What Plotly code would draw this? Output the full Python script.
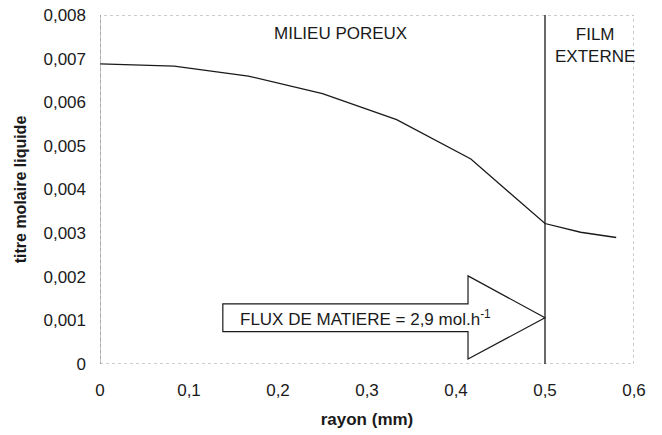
import plotly.graph_objects as go

rayon = [0, 0.0833, 0.1667, 0.25, 0.3333, 0.4167, 0.5, 0.54, 0.58]
titre = [0.00688, 0.00683, 0.0066, 0.0062, 0.0056, 0.0047, 0.00322, 0.00302, 0.0029]

x_tickvals = [0, 0.1, 0.2, 0.3, 0.4, 0.5, 0.6]
x_ticktext = ["0", "0,1", "0,2", "0,3", "0,4", "0,5", "0,6"]
y_tickvals = [0, 0.001, 0.002, 0.003, 0.004, 0.005, 0.006, 0.007, 0.008]
y_ticktext = ["0", "0,001", "0,002", "0,003", "0,004", "0,005", "0,006", "0,007", "0,008"]

boundary = 0.5
arrow_body = dict(x0=0.138, x1=0.4135, y0=0.00074, y1=0.00138)
arrow_head = dict(x=0.4135, top=0.00202, bottom=0.000115, tip=0.5)

FONT = "Liberation Sans, Arial, sans-serif"
INK = "#1a1a1a"

fig = go.Figure()
fig.add_trace(go.Scatter(x=rayon, y=titre, mode="lines",
                         line=dict(color=INK, width=1.3), showlegend=False, hoverinfo="skip"))

ab, ah = arrow_body, arrow_head
ymid = (ab["y0"] + ab["y1"]) / 2
path = (f"M {ab['x0']},{ab['y0']} L {ab['x1']},{ab['y0']} L {ah['x']},{ah['bottom']} "
        f"L {ah['tip']},{ymid} L {ah['x']},{ah['top']} L {ab['x1']},{ab['y1']} L {ab['x0']},{ab['y1']} Z")

shapes = [
    dict(type="rect", xref="x", yref="y", x0=0, x1=0.6, y0=0, y1=0.008,
         line=dict(color="#9a9a9a", width=1, dash="dot"), layer="below"),
    dict(type="line", xref="x", yref="y", x0=0, x1=0, y0=0, y1=0.008,
         line=dict(color="#8a8a8a", width=1)),
    dict(type="path", path=path, xref="x", yref="y", fillcolor="white",
         line=dict(color=INK, width=1.2)),
    dict(type="line", xref="x", yref="y", x0=boundary, x1=boundary, y0=0, y1=0.008,
         line=dict(color=INK, width=1.3)),
]

annotations = [
    dict(x=0.27, y=0.00757, xref="x", yref="y", text="MILIEU POREUX", showarrow=False,
         font=dict(family=FONT, size=17, color=INK)),
    dict(x=0.556, y=0.00729, xref="x", yref="y", text="FILM<br>EXTERNE", showarrow=False,
         yanchor="middle", font=dict(family=FONT, size=17, color=INK)),
    dict(x=0.155, y=ymid, xref="x", yref="y", xanchor="left",
         text="FLUX DE MATIERE = 2,9 mol.h<sup>-1</sup>", showarrow=False,
         font=dict(family=FONT, size=17, color=INK)),
]

fig.update_layout(
    width=662, height=435,
    margin=dict(l=100, r=28, t=15, b=71, autoexpand=False),
    paper_bgcolor="white", plot_bgcolor="white",
    shapes=shapes, annotations=annotations,
    font=dict(family=FONT, size=17, color=INK),
    xaxis=dict(range=[0, 0.6], tickvals=x_tickvals, ticktext=x_ticktext,
               showgrid=False, zeroline=False, showline=False, ticks="",
               automargin=False, ticklabelstandoff=14,
               title=dict(text="<b>rayon (mm)</b>", font=dict(size=17), standoff=14)),
    yaxis=dict(range=[0, 0.008], tickvals=y_tickvals, ticktext=y_ticktext,
               showgrid=False, zeroline=False, showline=False, ticks="",
               automargin=False, ticklabelstandoff=13,
               title=dict(text="<b>titre molaire liquide</b>", font=dict(size=16), standoff=12)),
)

fig.write_html("out.html", config={"displayModeBar": False},
               post_script="document.body.style.margin='0';")
